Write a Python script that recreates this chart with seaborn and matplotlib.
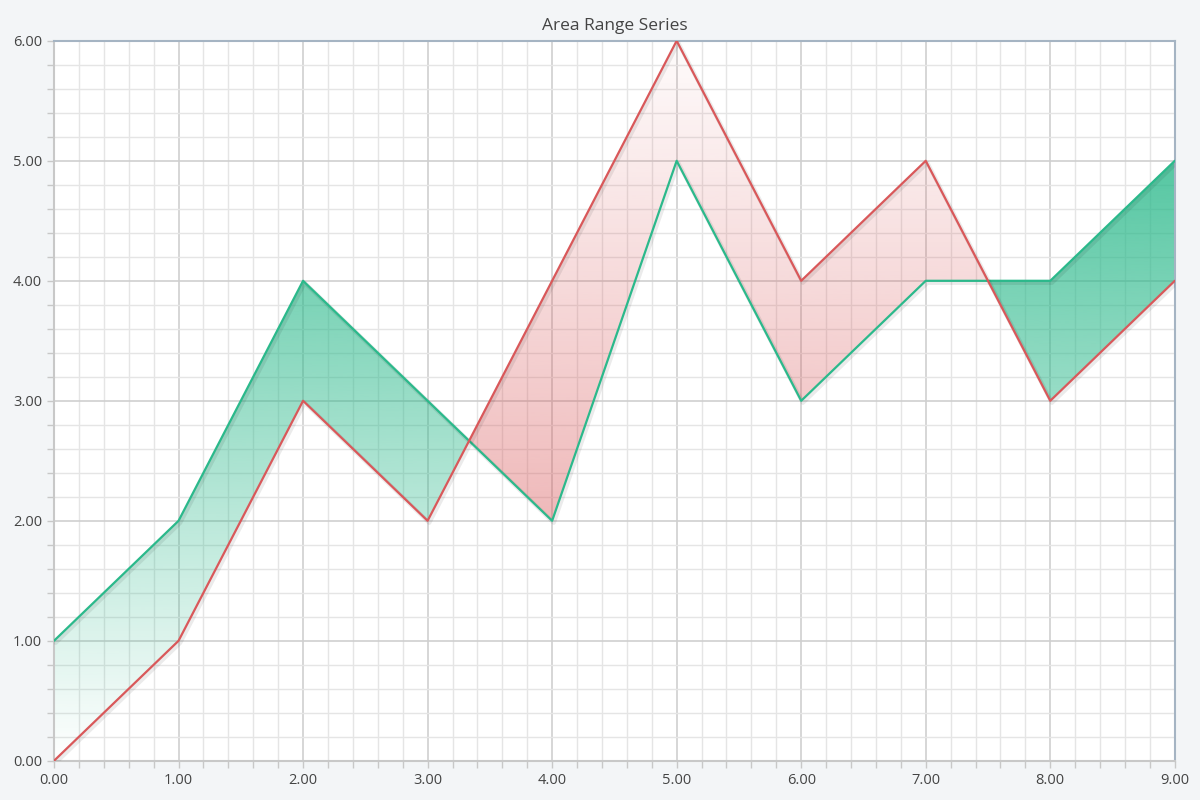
import numpy as np
import pandas as pd
import seaborn as sns
import matplotlib.pyplot as plt
import matplotlib.patheffects as pe
from matplotlib.colors import to_rgb
from matplotlib.ticker import MultipleLocator, FormatStrFormatter


# DATI
x_vals = [0, 1, 2, 3, 4, 5, 6, 7, 8, 9]
serie_verde = [1, 2, 4, 3, 2, 5, 3, 4, 4, 5]
serie_rossa = [0, 1, 3, 2, 4, 6, 4, 5, 3, 4]

COL_VERDE = "#2bb98b"
COL_ROSSO = "#d9585a"

df = pd.DataFrame({"x": x_vals, "verde": serie_verde, "rosso": serie_rossa})


# STILE
sns.set_theme(style="white")
plt.rcParams["font.family"] = ["Open Sans", "DejaVu Sans"]

fig = plt.figure(figsize=(12, 8), dpi=100, facecolor="#f3f5f7")
ax = fig.add_axes([0.045, 0.049, 0.934, 0.90])
ax.set_facecolor("white")


def riempi_gradiente(ax, mask, colore, y0, y1, a0, a1):
    # fill invisibile usato solo come maschera per il gradiente
    coll = ax.fill_between(df["x"], df["verde"], df["rosso"], where=mask,
                           interpolate=True, facecolor="none", edgecolor="none")
    r, g, b = to_rgb(colore)
    n = 256
    img = np.zeros((n, 1, 4))
    img[:, 0, 0], img[:, 0, 1], img[:, 0, 2] = r, g, b
    img[:, 0, 3] = np.linspace(a0, a1, n)
    for path in coll.get_paths():
        im = ax.imshow(img, extent=[0, 9, y0, y1], origin="lower",
                       aspect="auto", zorder=2, interpolation="bicubic")
        im.set_clip_path(path, transform=ax.transData)


mask_verde = (df["verde"] >= df["rosso"]).to_numpy()
riempi_gradiente(ax, mask_verde, COL_VERDE, 0, 5, 0.0, 0.8)
riempi_gradiente(ax, ~mask_verde, COL_ROSSO, 2, 6, 0.42, 0.02)

ombra = [pe.SimpleLineShadow(offset=(1.2, -1.5), shadow_color="black", alpha=0.08,
                             linewidth=3),
         pe.Normal()]
sns.lineplot(data=df, x="x", y="verde", color=COL_VERDE, lw=1.6, ax=ax,
             zorder=4, path_effects=ombra)
sns.lineplot(data=df, x="x", y="rosso", color=COL_ROSSO, lw=1.6, ax=ax,
             zorder=4, path_effects=ombra)


# ASSI
ax.set_xlim(0, 9)
ax.set_ylim(0, 6)
ax.set_xlabel("")
ax.set_ylabel("")
ax.xaxis.set_major_locator(MultipleLocator(1))
ax.xaxis.set_minor_locator(MultipleLocator(0.2))
ax.yaxis.set_major_locator(MultipleLocator(1))
ax.yaxis.set_minor_locator(MultipleLocator(0.2))
ax.xaxis.set_major_formatter(FormatStrFormatter("%.2f"))
ax.yaxis.set_major_formatter(FormatStrFormatter("%.2f"))

ax.grid(which="major", color="#cfcfcf", lw=1.2, zorder=0)
ax.grid(which="minor", color="#e5e5e5", lw=1.0, zorder=0)
ax.set_axisbelow(True)

ax.tick_params(which="both", direction="out", length=5, width=1,
               color="#c8c8c8", labelsize=10.5, labelcolor="#444444",
               bottom=True, left=True)
ax.tick_params(axis="x", which="major", pad=4)

for lato in ["top", "right"]:
    ax.spines[lato].set_color("#a5b4c3")
    ax.spines[lato].set_linewidth(1.5)
for lato in ["left", "bottom"]:
    ax.spines[lato].set_color("#c8c8c8")
    ax.spines[lato].set_linewidth(1.5)

ax.set_title("Area Range Series", fontsize=12.5, color="#444444", pad=8)

plt.savefig("out.png", dpi=100, facecolor=fig.get_facecolor())
plt.close()
